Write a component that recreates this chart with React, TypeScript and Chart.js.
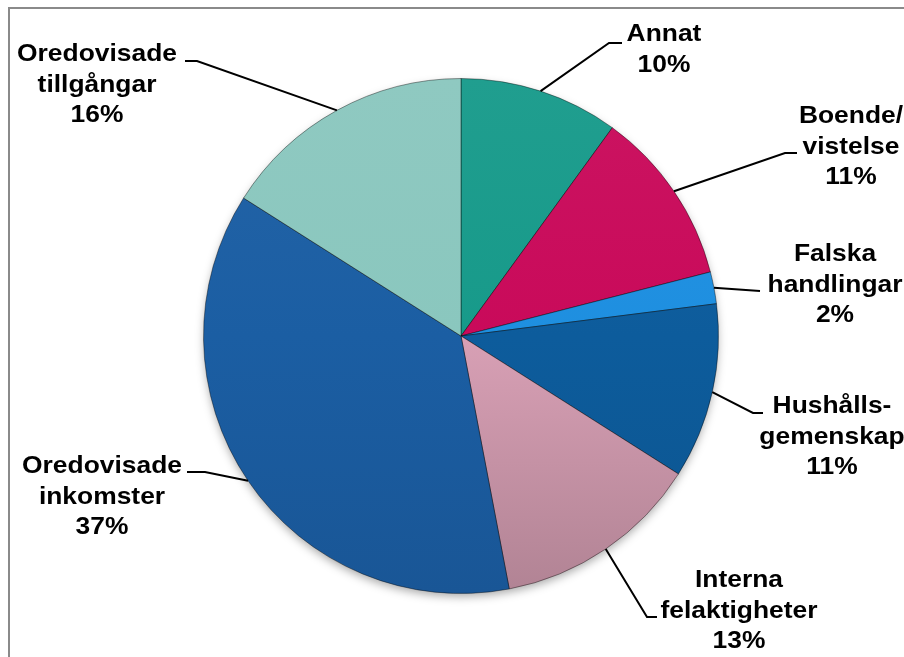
import React, { useEffect, useRef } from "react";
import { Chart, registerables } from "chart.js";

Chart.register(...registerables);

const categories = [
  "Annat",
  "Boende/vistelse",
  "Falska handlingar",
  "Hushållsgemenskap",
  "Interna felaktigheter",
  "Oredovisade inkomster",
  "Oredovisade tillgångar",
];
const labelLines = [
  ["Annat"],
  ["Boende/", "vistelse"],
  ["Falska", "handlingar"],
  ["Hushålls-", "gemenskap"],
  ["Interna", "felaktigheter"],
  ["Oredovisade", "inkomster"],
  ["Oredovisade", "tillgångar"],
];
const shares = [10, 11, 2, 11, 13, 37, 16];
const sliceColors = ["#179a8a", "#c90a5a", "#1e8fe0", "#0d5c9c", "#d8a0b5", "#1b5ea3", "#8ac7be"];

// label layout: text centre x, first baseline y, leader polyline points after the slice edge
const labelLayout = [
  { x: 664, y: 41, path: [[609, 43], [622, 43]] },
  { x: 851, y: 123, path: [[785, 153], [797, 153]] },
  { x: 835, y: 261, path: [[760, 291]] },
  { x: 832, y: 413, path: [[753, 413], [763, 413]] },
  { x: 739, y: 587, path: [[647, 617], [657, 617]] },
  { x: 102, y: 473, path: [[205, 472], [187, 472]] },
  { x: 97, y: 61, path: [[197, 61], [185, 61]] },
];

function shade(hex: string, amt: number) {
  const n = parseInt(hex.slice(1), 16);
  const r = (n >> 16) & 255, g = (n >> 8) & 255, b = n & 255;
  const f = (c: number) => Math.max(0, Math.min(255, Math.round(amt >= 0 ? c + (255 - c) * amt : c * (1 + amt))));
  return `rgb(${f(r)},${f(g)},${f(b)})`;
}

const shadowPlugin = {
  id: "pieShadow",
  beforeDatasetsDraw(chart: any) {
    const meta = chart.getDatasetMeta(0);
    const arc = meta.data[0];
    if (!arc) return;
    const ctx = chart.ctx;
    ctx.save();
    ctx.shadowColor = "rgba(0,0,0,0.35)";
    ctx.shadowBlur = 10;
    ctx.shadowOffsetY = 4;
    ctx.fillStyle = "#777";
    ctx.beginPath();
    ctx.arc(arc.x, arc.y, arc.outerRadius - 1, 0, Math.PI * 2);
    ctx.fill();
    ctx.restore();
  },
};

const labelPlugin = {
  id: "leaderLabels",
  afterDatasetsDraw(chart: any) {
    const ctx = chart.ctx;
    const meta = chart.getDatasetMeta(0);
    ctx.save();
    meta.data.forEach((arc: any, i: number) => {
      const mid = (arc.startAngle + arc.endAngle) / 2;
      const sx = arc.x + Math.cos(mid) * arc.outerRadius;
      const sy = arc.y + Math.sin(mid) * arc.outerRadius;
      const lay = labelLayout[i];
      ctx.strokeStyle = "#000";
      ctx.lineWidth = 2;
      ctx.beginPath();
      ctx.moveTo(sx, sy);
      lay.path.forEach((p) => ctx.lineTo(p[0], p[1]));
      ctx.stroke();
      const lines = [...labelLines[i], `${shares[i]}%`];
      ctx.fillStyle = "#000";
      ctx.font = 'bold 24px "Liberation Sans", Arial, sans-serif';
      ctx.textAlign = "center";
      ctx.textBaseline = "alphabetic";
      lines.forEach((t, k) => {
        ctx.save();
        ctx.translate(lay.x, lay.y + k * 30.7);
        ctx.scale(1.1, 1);
        ctx.fillText(t, 0, 0);
        ctx.restore();
      });
    });
    ctx.restore();
  },
};

export default function App() {
  const ref = useRef<HTMLCanvasElement>(null);
  useEffect(() => {
    if (!ref.current) return;
    const chart = new Chart(ref.current, {
      type: "pie",
      data: {
        labels: categories,
        datasets: [
          {
            data: shares,
            backgroundColor: (c: any) => {
              const base = sliceColors[c.dataIndex] || "#888";
              const area = c.chart.chartArea;
              if (!area) return base;
              const g = c.chart.ctx.createLinearGradient(0, area.top, 0, area.bottom);
              const pink = c.dataIndex === 4;
              g.addColorStop(0, shade(base, 0.04));
              g.addColorStop(0.5, base);
              g.addColorStop(1, shade(base, pink ? -0.18 : -0.08));
              return g;
            },
            borderColor: "rgba(0,0,0,0.4)",
            borderWidth: 1,
          },
        ],
      },
      options: {
        responsive: false,
        animation: false,
        layout: { padding: { left: 203, right: 185, top: 78, bottom: 63 } },
        plugins: { legend: { display: false }, tooltip: { enabled: false } },
      },
      plugins: [shadowPlugin, labelPlugin],
    });
    return () => chart.destroy();
  }, []);
  return (
    <div style={{ position: "fixed", left: 0, top: 0, width: 904, height: 657, overflow: "hidden", background: "#fff" }}>
      <div
        style={{
          position: "absolute",
          left: 8,
          top: 7,
          width: 920,
          height: 700,
          borderLeft: "2px solid #8a8a8a",
          borderTop: "2px solid #8a8a8a",
        }}
      />
      <canvas ref={ref} width={904} height={657} style={{ position: "absolute", left: 0, top: 0 }} />
    </div>
  );
}
